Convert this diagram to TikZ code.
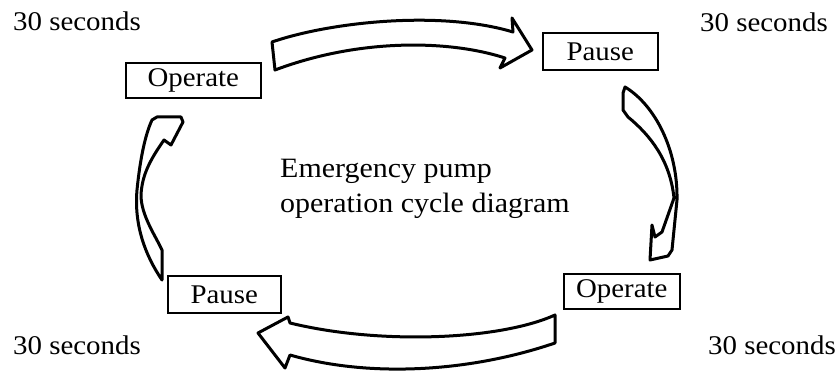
\documentclass[tikz,border=0pt]{standalone}
\usepackage{fontspec}
\setmainfont{Liberation Serif}[FakeStretch=1.07]
\begin{document}
\begin{tikzpicture}[x=1pt,y=-1pt,
  lbl/.style={font=\fontsize{27}{32}\selectfont, inner sep=0pt, anchor=base west},
  ttl/.style={font=\fontsize{28}{35}\selectfont, inner sep=0pt, anchor=base west},
  box/.style={draw, line width=1.6pt, font=\fontsize{27}{32}\selectfont, inner sep=0pt, anchor=north west},
  blockarrow/.style={draw, fill=white, line width=3pt, line join=round}]
\useasboundingbox (0,0) rectangle (839,371);

% labels
\node[lbl] (t1) at (13,31) {30 seconds};
\node[lbl] (t2) at (700,32) {30 seconds};
\node[lbl] (t3) at (708,355) {30 seconds};
\node[lbl] (t4) at (13,355) {30 seconds};
\node[ttl] (c1) at (280,178) {Emergency pump};
\node[ttl] (c2) at (280,213) {operation cycle diagram};

% boxes
\node[box, minimum width=135pt, minimum height=35pt] (op1) at (125,62) {Operate};
\node[box, minimum width=115pt, minimum height=37pt] (pa1) at (542,32) {Pause};
\node[box, minimum width=116pt, minimum height=35pt] (op2) at (563,273) {Operate};
\node[box, minimum width=113pt, minimum height=37pt] (pa2) at (167,275) {Pause};

% top arrow
\path[blockarrow] (272,42) .. controls (330,22) and (440,10) .. (513,32)
  -- (512,18) -- (532,50) -- (500,68) -- (505,58)
  .. controls (450,40) and (360,38) .. (275,70) -- cycle;

% right arrow
\path[blockarrow] (625,87) .. controls (655,105) and (678,150) .. (677,200)
  -- (672,250) -- (668,256) -- (650,260) -- (652,225) -- (655,237) -- (662,232)
  -- (674,198) .. controls (670,160) and (650,135) .. (628,117)
  -- (623,110) -- (623,93) -- cycle;

% bottom arrow
\path[blockarrow] (555,315) .. controls (500,340) and (380,345) .. (290,323)
  -- (288,317) -- (258,333) -- (285,368) -- (290,355)
  .. controls (370,378) and (470,372) .. (555,343) -- cycle;

% left arrow
\path[blockarrow] (162,280) .. controls (145,255) and (134,225) .. (137,190)
  .. controls (140,160) and (145,135) .. (152,120) -- (157,117) -- (181,117)
  -- (183,122) -- (171,145) -- (164,140)
  .. controls (150,160) and (142,175) .. (141,195)
  .. controls (141,215) and (155,235) .. (162,250) -- (162,273) -- cycle;
\end{tikzpicture}
\end{document}
